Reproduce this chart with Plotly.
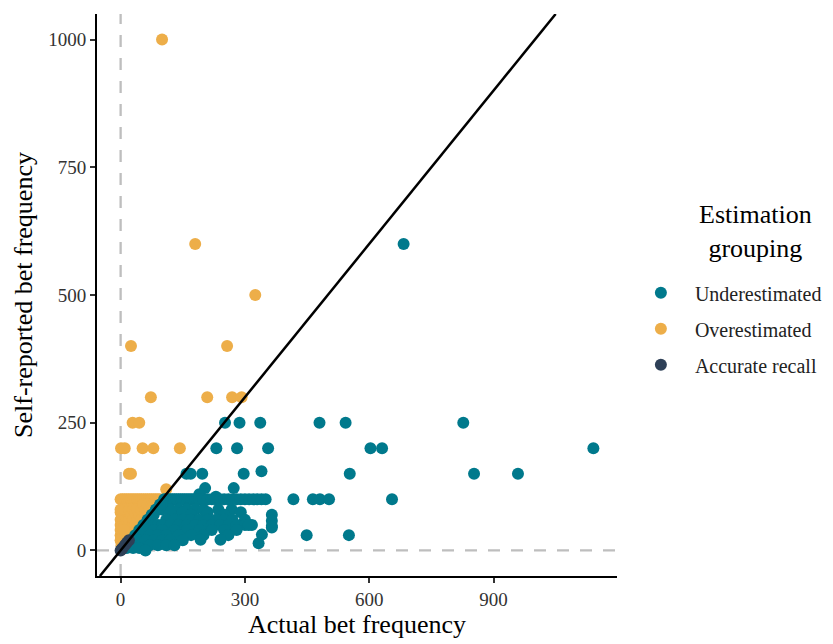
import plotly.graph_objects as go

# ---------------- data ----------------
over_x = [100, 180, 325, 25, 257, 73, 209, 269, 292, 29, 45, 1, 10, 53, 79, 143, 20, 25, 110,
          0, 5, 10, 15, 20, 25, 30, 35, 40, 45, 50, 55, 60, 65, 70, 75, 80, 85, 90, 95,
          0, 0, 0, 0, 0, 0, 0, 2, 5, 5, 8, 10, 10, 10, 12, 15, 15, 18, 20, 20, 20, 25, 25,
          30, 30, 30, 35, 35, 40, 40, 45, 50, 50, 55, 60, 60, 65, 70, 75, 80, 85, 90, 15, 5, 3, 8]
over_y = [1000, 600, 500, 400, 400, 300, 300, 300, 300, 250, 250, 200, 200, 200, 200, 200, 150, 150, 120,
          100, 100, 100, 100, 100, 100, 100, 100, 100, 100, 100, 100, 100, 100, 100, 100, 100, 100, 100, 100,
          20, 30, 40, 50, 60, 75, 80, 10, 50, 30, 20, 30, 50, 80, 25, 40, 60, 30, 50, 60, 80, 40, 70,
          50, 60, 80, 50, 75, 60, 80, 70, 60, 80, 90, 70, 80, 90, 80, 90, 90, 95, 98, 30, 15, 25, 40]

under_x = [683, 252, 287, 337, 480, 543, 827, 231, 281, 356, 603, 631, 1141,
           159, 169, 197, 297, 340, 553, 853, 959, 204, 273, 190, 230,
           105, 110, 115, 120, 125, 130, 135, 140, 145, 150, 155, 160, 165, 170, 175, 180, 185, 190, 195,
           200, 210, 220, 230, 240, 250, 260, 270, 280, 290, 300, 310, 320, 330, 340, 350,
           417, 464, 481, 503, 655,
           100, 120, 140, 160, 180, 200, 236, 268,
           60, 70, 80, 90, 100, 50, 40, 30, 25, 20, 15, 35, 45, 55, 65, 75, 85, 95,
           120, 150, 170, 210, 250, 290, 365,
           110, 130, 150, 170, 190, 210, 230, 250, 270, 300, 365,
           70, 80, 90, 100, 120, 140, 160, 180, 200, 220, 240, 260, 280, 300, 317, 365, 309,
           60, 80, 100, 130, 160, 190, 220, 250, 280, 365,
           50, 70, 90, 110, 140, 170, 200, 260, 341, 449, 551,
           35, 45, 60, 80, 100, 120, 150, 193, 241,
           25, 35, 50, 70, 90, 110, 130,
           15, 30, 45, 60, 333]
under_y = [600, 250, 250, 250, 250, 250, 250, 200, 200, 200, 200, 200, 200,
           150, 150, 150, 150, 155, 150, 150, 150, 122, 122, 110, 105,
           100, 100, 100, 100, 100, 100, 100, 100, 100, 100, 100, 100, 100, 100, 100, 100, 100, 100, 100,
           100, 100, 100, 100, 100, 100, 100, 100, 100, 100, 100, 100, 100, 100, 100, 100,
           100, 100, 100, 100, 100,
           80, 80, 80, 80, 80, 80, 80, 80,
           50, 60, 70, 80, 90, 40, 30, 20, 20, 10, 10, 30, 40, 50, 60, 70, 80, 90,
           75, 75, 70, 75, 70, 75, 70,
           60, 60, 60, 60, 60, 60, 60, 60, 60, 60, 58,
           50, 50, 50, 50, 50, 50, 50, 50, 50, 50, 50, 50, 50, 50, 50, 48, 50,
           40, 40, 40, 40, 40, 40, 40, 40, 40, 45,
           30, 30, 30, 30, 30, 30, 30, 30, 31, 30, 30,
           20, 20, 20, 20, 20, 20, 20, 21, 21,
           10, 10, 10, 10, 10, 10, 10,
           5, 5, 5, 0, 14]

acc_x = [0, 3, 5, 10, 15, 20]
acc_y = [0, 3, 5, 10, 15, 20]

x_ticks = [0, 300, 600, 900]
y_ticks = [0, 250, 500, 750, 1000]
x_range = [-57, 1198]
y_range = [-50, 1050]

legend_title = "Estimation<br>grouping"

# ---------------- style ----------------
FONT = "Liberation Serif"
C_UNDER = "#00798c"
C_OVER = "#edae49"
C_ACC = "#2e4057"
MS = 12

fig = go.Figure()

fig.add_trace(go.Scatter(x=over_x, y=over_y, mode="markers", name="Overestimated",
                         marker=dict(color=C_OVER, size=MS, line=dict(width=0)),
                         legendrank=2, legendgroup="o"))
fig.add_trace(go.Scatter(x=under_x, y=under_y, mode="markers", name="Underestimated",
                         marker=dict(color=C_UNDER, size=MS, line=dict(width=0)),
                         legendrank=1, legendgroup="u"))
fig.add_trace(go.Scatter(x=acc_x, y=acc_y, mode="markers", name="Accurate recall",
                         marker=dict(color=C_ACC, size=MS, line=dict(width=0)),
                         legendrank=3, legendgroup="a"))

# identity line y = x
lo = max(x_range[0], y_range[0])
hi = min(x_range[1], y_range[1])
fig.add_trace(go.Scatter(x=[lo, hi], y=[lo, hi], mode="lines",
                         line=dict(color="black", width=2.5),
                         showlegend=False, hoverinfo="skip"))

fig.add_hline(y=0, line=dict(color="#BEBEBE", width=2.3, dash="12px,11px"), layer="below")
fig.add_vline(x=0, line=dict(color="#BEBEBE", width=2.3, dash="12px,11px"), layer="below")

axis_common = dict(showline=True, linecolor="black", linewidth=2, ticks="outside",
                   ticklen=5, tickwidth=1.5, tickcolor="#333333", showgrid=False,
                   zeroline=False, tickfont=dict(family=FONT, size=19, color="#333333"),
                   mirror=False)

fig.update_xaxes(range=x_range, tickvals=x_ticks, ticktext=[str(v) for v in x_ticks],
                 title=dict(text="Actual bet frequency", font=dict(family=FONT, size=26, color="black"),
                            standoff=4),
                 **axis_common)
fig.update_yaxes(range=y_range, tickvals=y_ticks, ticktext=[str(v) for v in y_ticks],
                 title=dict(text="Self-reported bet frequency", font=dict(family=FONT, size=26, color="black"),
                            standoff=8),
                 **axis_common)

fig.add_annotation(text=legend_title, xref="paper", yref="paper", x=1.266, y=0.613,
                   xanchor="center", yanchor="middle", align="center", showarrow=False,
                   font=dict(family=FONT, size=26, color="black"))

fig.update_layout(
    width=825, height=636,
    margin=dict(l=89, r=212, t=6, b=68),
    plot_bgcolor="white", paper_bgcolor="white",
    font=dict(family=FONT),
    legend=dict(
        font=dict(family=FONT, size=20, color="#222222"),
        x=1.019, xanchor="left", y=0.44, yanchor="middle",
        tracegroupgap=7, itemsizing="constant", itemwidth=58,
        bgcolor="rgba(0,0,0,0)",
    ),
)

fig.write_html("out.html")
